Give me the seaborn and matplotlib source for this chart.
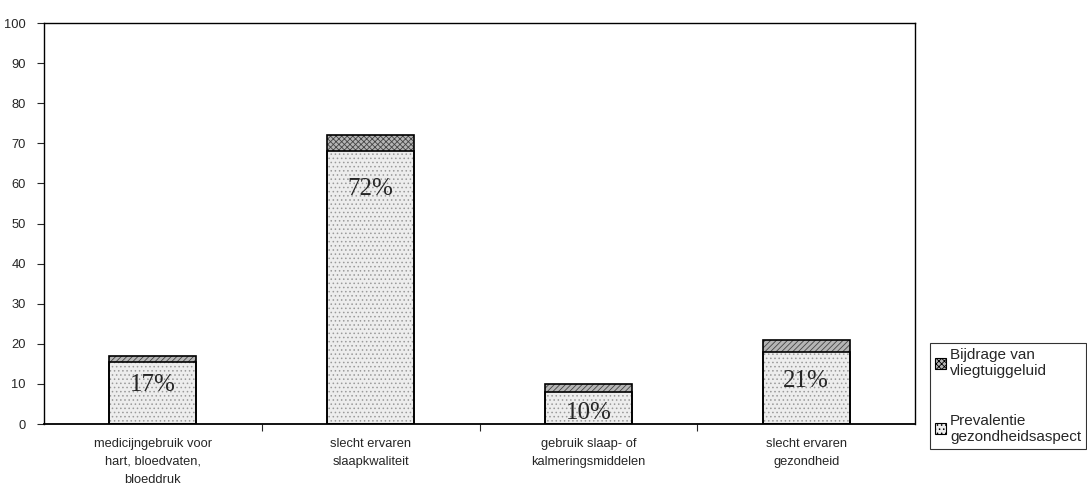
import matplotlib
matplotlib.use("Agg")
import matplotlib.pyplot as plt
from matplotlib.patches import Rectangle, Patch
import seaborn as sns
import pandas as pd

categories = [
    "medicijngebruik voor\nhart, bloedvaten,\nbloeddruk",
    "slecht ervaren\nslaapkwaliteit",
    "gebruik slaap- of\nkalmeringsmiddelen",
    "slecht ervaren\ngezondheid",
]
prevalentie = [15.5, 68, 8, 18]
bijdrage = [1.5, 4, 2, 3]
labels = ["17%", "72%", "10%", "21%"]
label_y = [9.75, 58.5, 2.75, 10.75]
yticks = list(range(0, 101, 10))

totaal = [p + b for p, b in zip(prevalentie, bijdrage)]
df = pd.DataFrame({"categorie": categories, "prevalentie": prevalentie, "totaal": totaal})

sns.set_style("white")
plt.rcParams["font.family"] = ["Liberation Sans", "DejaVu Sans"]
plt.rcParams["hatch.linewidth"] = 0.6

fig = plt.figure(figsize=(10.87, 4.94), dpi=100)
ax = fig.add_axes([0.0405, 0.1417, 0.8013, 0.8117])

# upper segment: contribution of aircraft noise (drawn as total height)
sns.barplot(data=df, x="categorie", y="totaal", color="white", width=0.4,
            edgecolor="#444444", linewidth=0, ax=ax)
n_top = len(ax.patches)
top_hatches = ["//////", "xxxxxx", "//////", "//////"]
for p, h in zip(ax.patches[:n_top], top_hatches):
    p.set_hatch(h)
    p.set_facecolor("#b5b5b5")

# lower segment: prevalence of the health aspect
sns.barplot(data=df, x="categorie", y="prevalentie", color="#ededed", width=0.4,
            edgecolor="#9a9a9a", linewidth=0, ax=ax)
for p in ax.patches[n_top:]:
    p.set_hatch("....")

# black outlines around every segment
for p in list(ax.patches):
    ax.add_patch(Rectangle(p.get_xy(), p.get_width(), p.get_height(),
                           fill=False, edgecolor="black", linewidth=1.2, zorder=3))

for i, (txt, yv) in enumerate(zip(labels, label_y)):
    ax.text(i, yv, txt, ha="center", va="center", fontsize=18,
            family="Liberation Serif", zorder=4)

ax.set_ylim(0, 100)
ax.set_xlim(-0.5, 3.5)
ax.set_yticks(yticks)
ax.set_yticklabels([str(t) for t in yticks], fontsize=9.3)
ax.set_xticks(range(len(categories)))
ax.set_xticklabels(categories, fontsize=9.3, linespacing=1.65)
ax.tick_params(axis="x", length=0, pad=10)
ax.tick_params(axis="y", length=5, width=0.8, direction="out", left=True, pad=8)
# category separators on the x axis
ax.set_xticks([0.5, 1.5, 2.5], minor=True)
ax.tick_params(axis="x", which="minor", length=5, width=0.8, direction="out", bottom=True)
ax.set_xlabel("")
ax.set_ylabel("")
for s in ax.spines.values():
    s.set_visible(True)
    s.set_color("black")
    s.set_linewidth(1.0)
ax.spines["bottom"].set_linewidth(1.3)

handles = [
    Patch(facecolor="#b5b5b5", edgecolor="black", hatch="xxxxxx", linewidth=0.8,
          label="Bijdrage van\nvliegtuiggeluid"),
    Patch(facecolor="#ededed", edgecolor="black", hatch="....", linewidth=0.8,
          label="Prevalentie\ngezondheidsaspect"),
]
leg = fig.legend(handles=handles, loc="upper left", bbox_to_anchor=(0.8556, 0.306),
                 frameon=True, fancybox=False, fontsize=11, handlelength=0.7,
                 handleheight=0.7, handletextpad=0.25, labelspacing=2.3,
                 borderpad=0.35, borderaxespad=0.0, edgecolor="black")
for t in leg.get_texts():
    t.set_linespacing(1.2)
leg.get_frame().set_linewidth(0.8)

fig.savefig("out.png", dpi=100, facecolor="white")
